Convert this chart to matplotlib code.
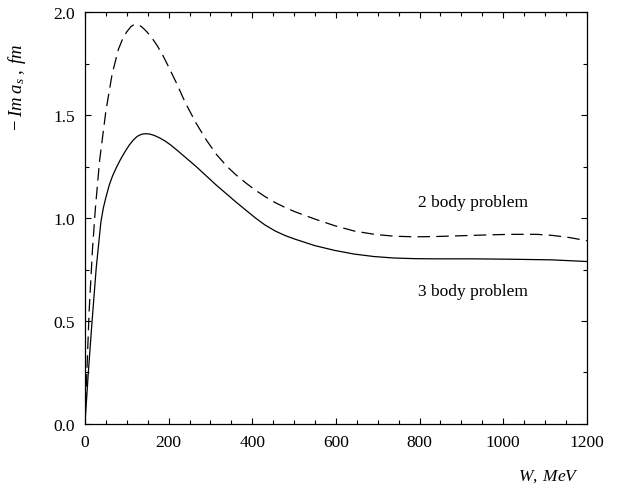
import matplotlib.pyplot as plt
from matplotlib.ticker import MultipleLocator

plt.rcParams['font.family'] = ['Liberation Serif', 'DejaVu Serif']
plt.rcParams['mathtext.fontset'] = 'custom'
plt.rcParams['mathtext.rm'] = 'Liberation Serif'
plt.rcParams['mathtext.it'] = 'Liberation Serif:italic'

# 2 body problem (dashed curve), W in MeV
w_two = [0, 5, 10, 18, 25, 35, 50, 65, 80, 90, 100, 110, 116, 122, 128, 135,
         143, 150, 160, 172, 185, 195, 207, 219, 240, 266, 290, 314, 340, 361,
         385, 408, 430, 455, 480, 503, 550, 597, 644, 692, 739, 786, 833, 880,
         928, 975, 1022, 1080, 1117, 1160, 1200]
im_two = [0.0, 0.28, 0.55, 0.85, 1.05, 1.28, 1.52, 1.70, 1.82, 1.87, 1.905, 1.93,
          1.938, 1.94, 1.938, 1.93, 1.915, 1.90, 1.875, 1.84, 1.795, 1.755, 1.705,
          1.655, 1.56, 1.46, 1.38, 1.31, 1.25, 1.21, 1.17, 1.135, 1.105, 1.075,
          1.05, 1.03, 0.995, 0.963, 0.937, 0.921, 0.912, 0.909, 0.910, 0.913,
          0.916, 0.919, 0.921, 0.921, 0.916, 0.905, 0.89]

# 3 body problem (solid curve)
w_three = [0, 8, 17, 27, 38, 44, 50, 58, 66, 75, 85, 95, 106, 116, 125, 135,
           145, 155, 165, 178, 191, 205, 220, 243, 266, 290, 314, 337, 361, 385,
           408, 430, 455, 480, 503, 550, 597, 644, 692, 739, 786, 833, 928, 1022,
           1117, 1200]
im_three = [0.0, 0.25, 0.50, 0.76, 0.98, 1.05, 1.10, 1.16, 1.205, 1.245, 1.285,
            1.32, 1.355, 1.38, 1.397, 1.407, 1.41, 1.408, 1.402, 1.39, 1.375,
            1.355, 1.33, 1.29, 1.25, 1.205, 1.16, 1.12, 1.078, 1.038, 1.0, 0.967,
            0.937, 0.914, 0.897, 0.866, 0.843, 0.825, 0.813, 0.806, 0.803, 0.802,
            0.802, 0.80, 0.797, 0.789]

fig = plt.figure(figsize=(6.18, 4.89), dpi=100)
ax = fig.add_axes([0.1375, 0.131, 0.812, 0.842])

ax.plot(w_two, im_two, color='black', lw=0.9, dashes=(10, 5))
ax.plot(w_three, im_three, color='black', lw=0.9)

ax.set_xlim(0, 1200)
ax.set_ylim(0, 2.0)
ax.xaxis.set_major_locator(MultipleLocator(200))
ax.xaxis.set_minor_locator(MultipleLocator(50))
ax.yaxis.set_major_locator(MultipleLocator(0.5))
ax.yaxis.set_minor_locator(MultipleLocator(0.25))
ax.yaxis.set_major_formatter(plt.FormatStrFormatter('%.1f'))
ax.tick_params(which='both', direction='in', top=True, right=True,
               labelsize=12.5, width=0.8)
ax.tick_params(which='major', length=4, pad=7)
ax.tick_params(which='minor', length=3)
for s in ax.spines.values():
    s.set_linewidth(0.9)

ax.text(797, 1.08, '2 body problem', fontsize=12.5, va='center', ha='left')
ax.text(797, 0.645, '3 body problem', fontsize=12.5, va='center', ha='left')

ax.text(-0.135, 0.82, r'$-\;Im\;a_s\;,\;fm$', transform=ax.transAxes,
        rotation=90, fontsize=13.5, ha='center', va='center')
ax.text(0.985, -0.125, r'$W,\;MeV$', transform=ax.transAxes,
        fontsize=12.5, ha='right', va='center')

plt.savefig('out.png', dpi=100)
